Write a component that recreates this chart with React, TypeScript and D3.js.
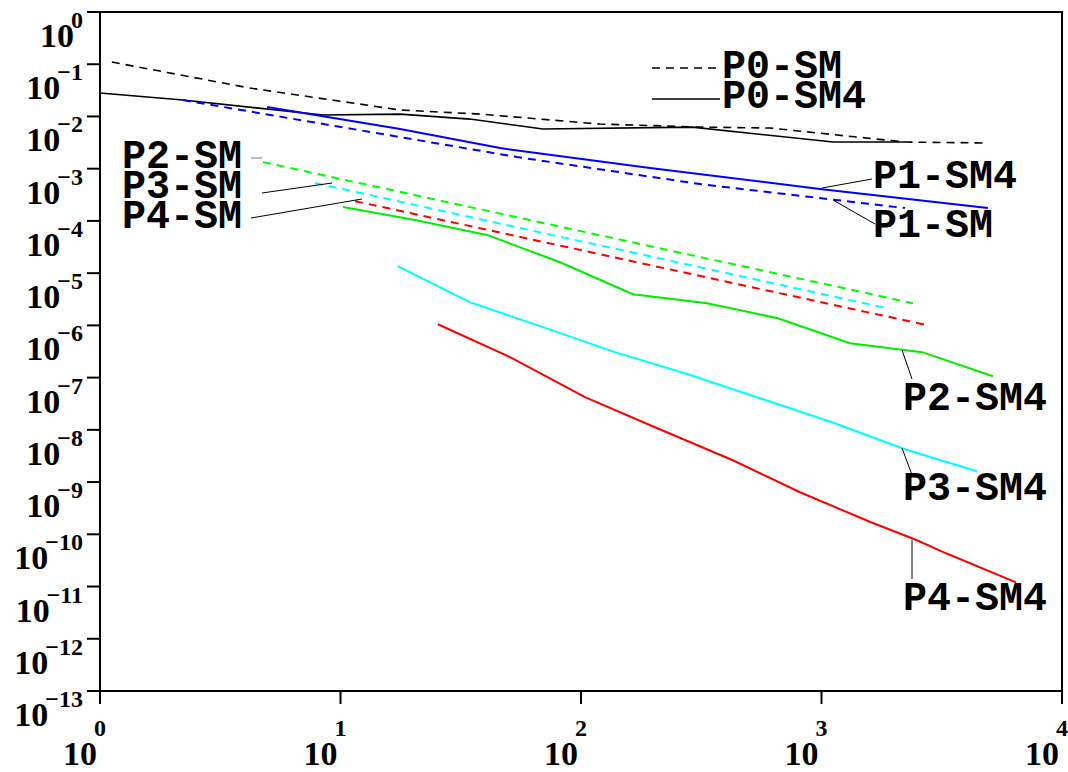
import React from "react";
import * as d3 from "d3";

// ---- data ----
const xTickExps = [0, 1, 2, 3, 4];
const yTickExps = [0, -1, -2, -3, -4, -5, -6, -7, -8, -9, -10, -11, -12, -13];

const p0smX = [1.12, 4.2, 17.7, 38, 120, 313, 611, 2224, 4786];
const p0smY = [0.11, 0.035, 0.0133, 0.0111, 0.00715, 0.00626, 0.006, 0.00324, 0.00311];

const p0sm4X = [1, 2.21, 8.46, 17.7, 34.5, 69.5, 290, 1116, 2224];
const p0sm4Y = [0.0281, 0.0206, 0.01064, 0.0111, 0.00891, 0.00574, 0.00626, 0.00324, 0.00324];

const p1smX = [2.21, 17.7, 54.2, 313, 2224];
const p1smY = [0.0206, 0.00403, 0.00167, 0.000507, 0.000176];

const p1sm4X = [4.95, 17.7, 46.1, 193.6, 1005, 4920];
const p1sm4Y = [0.01514, 0.00574, 0.00248, 0.001026, 0.000406, 0.000176];

const p2smX = [4.76, 109, 2400];
const p2smY = [0.001337, 5.84e-5, 2.66e-6];

const p3smX = [7.83, 1872];
const p3smY = [5.3e-4, 2.14e-6];

const p4smX = [11.5, 2747];
const p4smY = [2.39e-4, 1.01e-6];

const p2sm4X = [10.24, 20.4, 41.0, 81.8, 164.5, 334, 659, 1314, 2618, 5167];
const p2sm4Y = [1.84e-4, 1.04e-4, 5.34e-5, 1.62e-5, 3.96e-6, 2.66e-6, 1.37e-6, 4.56e-7, 3.07e-7, 1.06e-7];

const p3sm4X = [17.3, 34.5, 69.5, 138.4, 278.6, 555, 1106, 2224, 4433];
const p3sm4Y = [1.36e-5, 2.78e-6, 9.24e-7, 3.07e-7, 1.16e-7, 4.03e-8, 1.4e-8, 4.25e-9, 1.61e-9];

const p4sm4X = [25.4, 50.7, 103.9, 203, 428, 814, 1606, 2496, 3296, 6442];
const p4sm4Y = [1.05e-6, 2.46e-7, 4.22e-8, 1.12e-8, 2.62e-9, 6.38e-10, 1.7e-10, 7.68e-11, 4.33e-11, 1.2e-11];

const series = [
  { name: "P0-SM", xs: p0smX, ys: p0smY, color: "#000000", dashed: true },
  { name: "P0-SM4", xs: p0sm4X, ys: p0sm4Y, color: "#000000", dashed: false },
  { name: "P1-SM", xs: p1smX, ys: p1smY, color: "#0000ff", dashed: true },
  { name: "P1-SM4", xs: p1sm4X, ys: p1sm4Y, color: "#0000ff", dashed: false },
  { name: "P2-SM", xs: p2smX, ys: p2smY, color: "#00ff00", dashed: true },
  { name: "P3-SM", xs: p3smX, ys: p3smY, color: "#00ffff", dashed: true },
  { name: "P4-SM", xs: p4smX, ys: p4smY, color: "#ff0000", dashed: true },
  { name: "P2-SM4", xs: p2sm4X, ys: p2sm4Y, color: "#00ee00", dashed: false },
  { name: "P3-SM4", xs: p3sm4X, ys: p3sm4Y, color: "#00ffff", dashed: false },
  { name: "P4-SM4", xs: p4sm4X, ys: p4sm4Y, color: "#ff0000", dashed: false },
];

const L = 100, R = 1062, T = 12, B = 691;
const SERIF = "Liberation Serif, Times New Roman, Times, DejaVu Serif, serif";
const MONO = "Liberation Mono, Courier New, monospace";

export default function App() {
  const x = d3.scaleLog().domain([1, 1e4]).range([L, R]);
  const y = d3.scaleLog().domain([1e-13, 1]).range([B, T]);
  const line = d3
    .line<[number, number]>()
    .x((d) => x(d[0]))
    .y((d) => y(d[1]));

  const sup = (e: number) => (e < 0 ? "\u2212" + Math.abs(e) : String(e));

  const labelStyle = { style: { fontFamily: MONO, fontWeight: 700, fontSize: "40px" } };
  const serifStyle = { fontFamily: SERIF, fontWeight: 700, fontSize: "34px" };

  return (
    <svg
      width={1068}
      height={772}
      style={{ position: "absolute", left: 0, top: 0, background: "#fff" }}
    >
      <rect x={0} y={0} width={1068} height={772} fill="#fff" />
      {/* curves */}
      {series.map((s) => (
        <path
          key={s.name}
          d={line(s.xs.map((v, i) => [v, s.ys[i]] as [number, number])) || ""}
          fill="none"
          stroke={s.color}
          strokeWidth={s.color === "#000000" ? 1.6 : 2}
          strokeDasharray={s.dashed ? "8,6" : undefined}
        />
      ))}

      {/* frame */}
      <rect x={L} y={T} width={R - L} height={B - T} fill="none" stroke="#000" strokeWidth={2} />

      {/* y ticks */}
      {yTickExps.map((e) => {
        const yy = y(Math.pow(10, e));
        return (
          <g key={"y" + e}>
            <line x1={L - 13} x2={L} y1={yy} y2={yy} stroke="#000" strokeWidth={2} />
            <text x={L - 17} y={yy + 35} textAnchor="end" style={serifStyle}>
              <tspan>10</tspan>
              <tspan dx={-3} dy={-19} style={{ fontSize: "24px" }}>
                {sup(e)}
              </tspan>
            </text>
          </g>
        );
      })}

      {/* x ticks */}
      {xTickExps.map((e) => {
        const xx = x(Math.pow(10, e));
        return (
          <g key={"x" + e}>
            <line x1={xx} x2={xx} y1={B} y2={B + 13} stroke="#000" strokeWidth={2} />
            <text x={xx + 6} y={765} textAnchor="end" style={serifStyle}>
              <tspan>10</tspan>
              <tspan dx={-3} dy={-29} style={{ fontSize: "24px" }}>
                {String(e)}
              </tspan>
            </text>
          </g>
        );
      })}

      {/* legend */}
      <line x1={652} x2={722} y1={68} y2={68} stroke="#000" strokeWidth={1.6} strokeDasharray="8,6" />
      <line x1={652} x2={720} y1={99} y2={99} stroke="#000" strokeWidth={1.6} />
      <text x={722} y={78} {...labelStyle}>P0-SM</text>
      <text x={722} y={108} {...labelStyle}>P0-SM4</text>

      {/* annotation leaders */}
      <g stroke="#000" strokeWidth={1}>
        <line x1={822} y1={188} x2={872} y2={179} />
        <line x1={833} y1={200} x2={875} y2={224} />
        <line x1={251} y1={158} x2={262} y2={158} stroke="#777" />
        <line x1={262} y1={193} x2={332} y2={183} />
        <line x1={251} y1={218} x2={362} y2={199} />
        <line x1={902} y1={350} x2={912} y2={379} />
        <line x1={902} y1={448} x2={912} y2={475} />
        <line x1={912} y1={540} x2={912} y2={579} />
      </g>

      <text x={873} y={188} {...labelStyle}>P1-SM4</text>
      <text x={873} y={237} {...labelStyle}>P1-SM</text>
      <text x={122} y={168} {...labelStyle}>P2-SM</text>
      <text x={122} y={198} {...labelStyle}>P3-SM</text>
      <text x={122} y={228} {...labelStyle}>P4-SM</text>
      <text x={903} y={410} {...labelStyle}>P2-SM4</text>
      <text x={903} y={500} {...labelStyle}>P3-SM4</text>
      <text x={903} y={610} {...labelStyle}>P4-SM4</text>
    </svg>
  );
}
